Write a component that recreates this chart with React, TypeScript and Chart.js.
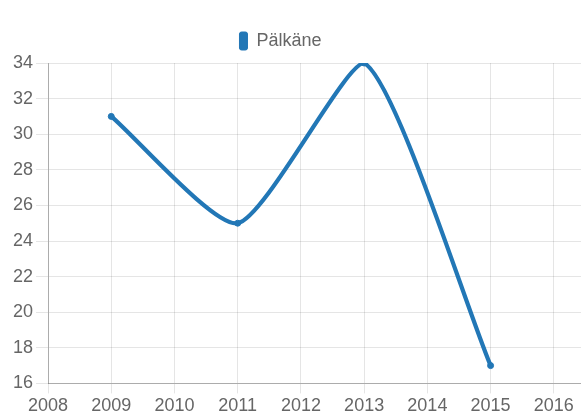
import React, { useEffect, useRef } from "react";
import { Chart, registerables } from "chart.js";

Chart.register(...registerables);

const seriesLabel = "Pälkäne";
const years = [2009, 2011, 2013, 2015];
const values = [31, 25, 34, 17];
const xMin = 2008;
const xMax = 2016.43;
const yMin = 16;
const yMax = 34;
const yStep = 2;

const FONT = "'Liberation Sans', Arial, Helvetica, sans-serif";
const BLUE = "#2277b6";

const legendShift = {
  id: "legendShift",
  afterLayout(chart: any) {
    const lg = chart.legend;
    if (!lg) return;
    lg.left -= 17.5;
    lg.right -= 17.5;
    lg.top -= 3;
    lg.bottom -= 3;
  },
};

export default function App() {
  const ref = useRef<HTMLCanvasElement | null>(null);

  useEffect(() => {
    if (!ref.current) return;
    const chart = new Chart(ref.current, {
      type: "line",
      data: {
        datasets: [
          {
            label: seriesLabel,
            data: years.map((x, i) => ({ x, y: values[i] })),
            borderColor: BLUE,
            backgroundColor: BLUE,
            borderWidth: 4.2,
            pointRadius: 3,
            pointBorderWidth: 1,
            pointBackgroundColor: BLUE,
            pointBorderColor: BLUE,
            tension: 0.2,
            fill: false,
          },
        ],
      },
      options: {
        animation: false,
        responsive: false,
        maintainAspectRatio: false,
        layout: { padding: { top: 25, left: 10, right: 0, bottom: 0 } },
        plugins: {
          legend: {
            display: true,
            position: "top",
            labels: {
              boxWidth: 8,
              boxHeight: 18,
              color: "#666",
              font: { family: FONT, size: 18 },
              padding: 10,
              useBorderRadius: true,
              borderRadius: 2,
              generateLabels: (c: any) =>
                Chart.defaults.plugins.legend.labels
                  .generateLabels(c)
                  .map((l: any) => ({ ...l, lineWidth: 1 })),
            },
          },
          tooltip: { enabled: false },
        },
        scales: {
          x: {
            type: "linear",
            min: xMin,
            max: xMax,
            grid: { color: "rgba(0,0,0,0.1)", tickLength: 10, lineWidth: 1 },
            border: { color: "rgba(0,0,0,0.25)" },
            ticks: {
              stepSize: 1,
              includeBounds: false,
              color: "#666",
              padding: 2,
              maxRotation: 0,
              font: { family: FONT, size: 18 },
              callback: (v: any) => String(v),
            },
          },
          y: {
            type: "linear",
            min: yMin,
            max: yMax,
            grid: { color: "rgba(0,0,0,0.1)", tickLength: 12, lineWidth: 1 },
            border: { color: "rgba(0,0,0,0.25)" },
            ticks: {
              stepSize: yStep,
              color: "#666",
              padding: 3,
              font: { family: FONT, size: 18 },
              callback: (v: any) => String(v),
            },
          },
        },
      },
      plugins: [legendShift],
    });
    return () => chart.destroy();
  }, []);

  return (
    <div
      style={{
        position: "fixed",
        left: 0,
        top: 0,
        width: 581,
        height: 413,
        overflow: "hidden",
        background: "#fff",
      }}
    >
      <canvas
        ref={ref}
        width={586}
        height={419}
        style={{ position: "absolute", left: 0, top: 0, width: 586, height: 419 }}
      />
    </div>
  );
}
